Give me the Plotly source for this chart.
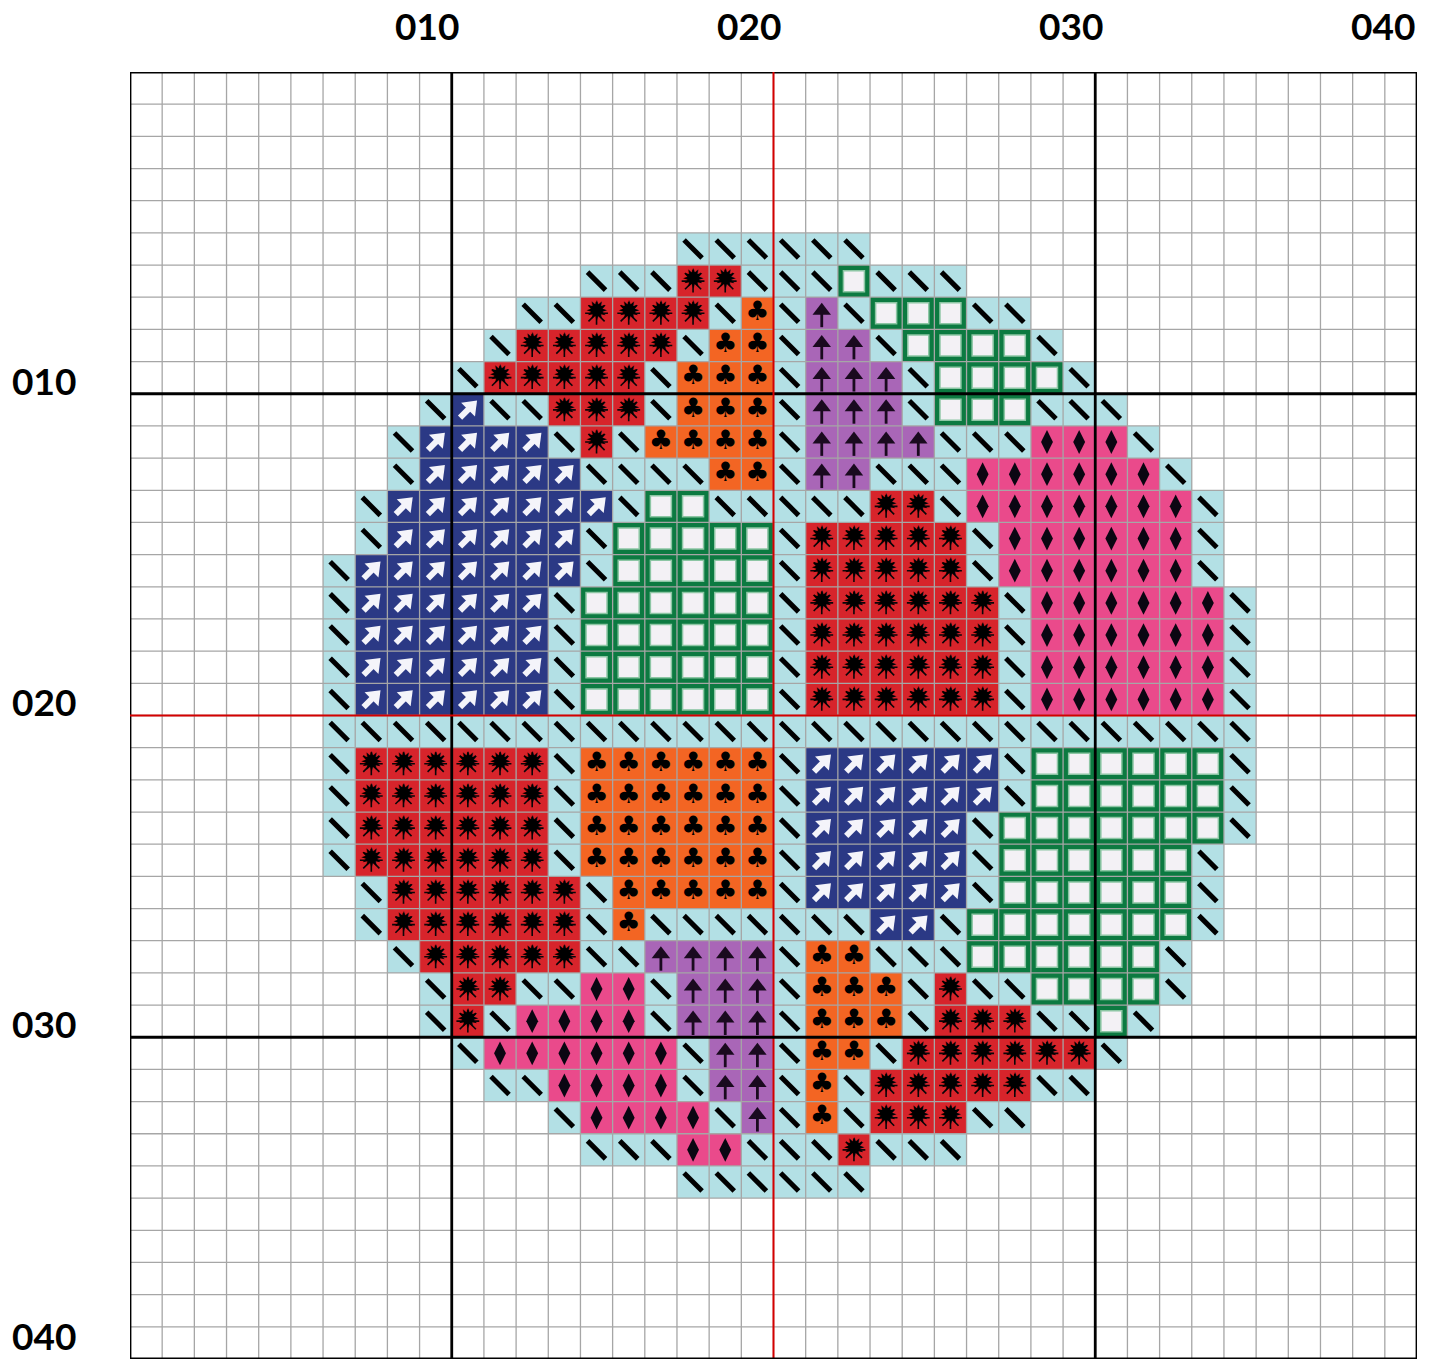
import plotly.graph_objects as go

GRID_N = 40

# ---- pattern data: for each stitched row, the first column and the thread codes ----
STITCH_ROWS = list(range(6, 36))
STITCH_START = [18, 15, 13, 12, 11, 10, 9, 9, 8, 8,
                7, 7, 7, 7, 7, 7, 7, 7, 7, 7,
                8, 8, 9, 10, 10, 11, 12, 14, 15, 18]
STITCH_CODES = [
    "bbbbbb",                          # 6
    "bbbrrbbbgbbb",                    # 7
    "bbrrrrbobpbgggbb",                # 8
    "brrrrrboobppbggggb",              # 9
    "brrrrrbooobpppbggggb",            # 10
    "bnbbrrrbooobpppbgggbbb",          # 11
    "bnnnnbrboooobppppbbbkkkb",        # 12
    "bnnnnnbbbboobppbbbkkkkkkb",       # 13
    "bnnnnnnnbggbbbbbrrbkkkkkkkb",     # 14
    "bnnnnnnbgggggbrrrrrbkkkkkkb",     # 15
    "bnnnnnnnbgggggbrrrrrbkkkkkkb",    # 16
    "bnnnnnnbggggggbrrrrrrbkkkkkkb",   # 17
    "bnnnnnnbggggggbrrrrrrbkkkkkkb",   # 18
    "bnnnnnnbggggggbrrrrrrbkkkkkkb",   # 19
    "bnnnnnnbggggggbrrrrrrbkkkkkkb",   # 20
    "bbbbbbbbbbbbbbbbbbbbbbbbbbbbb",   # 21
    "brrrrrrboooooobnnnnnnbggggggb",   # 22
    "brrrrrrboooooobnnnnnnbggggggb",   # 23
    "brrrrrrboooooobnnnnnbgggggggb",   # 24
    "brrrrrrboooooobnnnnnbggggggb",    # 25
    "brrrrrrbooooobnnnnnbggggggb",     # 26
    "brrrrrrbobbbbbbbnnbgggggggb",     # 27
    "brrrrrbbppppboobbbggggggb",       # 28
    "brrbbkkbpppbooobrbbggggb",        # 29
    "brbkkkkbpppbooobrrrbbgb",         # 30
    "bkkkkkkbppboobrrrrrrb",           # 31
    "bbkkkkbppbobrrrrrbb",             # 32
    "bkkkkbpbobrrrbb",                 # 33
    "bbbkkbbbrbbb",                    # 34
    "bbbbbb",                          # 35
]

THREAD_CODES = ["b", "r", "o", "p", "n", "g", "k"]
THREAD_NAMES = ["Light blue", "Red", "Orange", "Lilac", "Navy", "Green", "Pink"]
THREAD_COLORS = ["#b3e0e5", "#d7242b", "#f36523", "#a966b7", "#2b3985", "#0c7a41", "#ea4a8b"]

TICK_VALUES = [10, 20, 30, 40]
TICK_LABELS = ["010", "020", "030", "040"]

# ---- figure geometry ----
FIG_W, FIG_H = 1435, 1359
M_L, M_R, M_T = 130, 18, 72
CELL = (FIG_W - M_L - M_R) / GRID_N          # px per cell
Y_VISIBLE = (FIG_H - M_T) / CELL             # rows visible in plot area

# ---- build the cell grid ----
z = [[0] * GRID_N for _ in range(GRID_N)]
cells = {c: ([], []) for c in THREAD_CODES}
for row, start, codes in zip(STITCH_ROWS, STITCH_START, STITCH_CODES):
    for j, ch in enumerate(codes):
        col = start + j
        z[row - 1][col - 1] = THREAD_CODES.index(ch) + 1
        cells[ch][0].append(col - 0.5)
        cells[ch][1].append(row - 0.5)

ncat = len(THREAD_CODES) + 1
palette = ["#ffffff"] + THREAD_COLORS
colorscale = []
for i, col in enumerate(palette):
    colorscale.append([i / ncat, col])
    colorscale.append([(i + 1) / ncat, col])

centers = [i + 0.5 for i in range(GRID_N)]
fig = go.Figure()
fig.add_trace(go.Heatmap(z=z, x=centers, y=centers, colorscale=colorscale,
                         zmin=-0.5, zmax=ncat - 0.5, showscale=False, hoverinfo="skip"))

def pts(code, dx=0.0, dy=0.0):
    xs, ys = cells[code]
    return [x + dx for x in xs], [y + dy for y in ys]

def add_mark(code, marker, dx=0.0, dy=0.0):
    x, y = pts(code, dx, dy)
    fig.add_trace(go.Scatter(x=x, y=y, mode="markers", hoverinfo="skip", marker=marker))

def add_glyph(code, glyph, size):
    x, y = pts(code)
    fig.add_trace(go.Scatter(x=x, y=y, mode="text", text=[glyph] * len(x), hoverinfo="skip",
                             textposition="middle center",
                             textfont=dict(family="DejaVu Sans", size=size, color="black")))

INK = "#0a0508"
# light blue: diagonal stroke
add_mark("b", dict(symbol="line-nw", size=18, line=dict(width=5, color="black")))
# red: starburst
add_mark("r", dict(symbol="asterisk", size=19, line=dict(width=1.6, color=INK)))
add_glyph("r", "✹", 27)
# orange: club
add_glyph("o", "♣", 27)
# lilac: arrow up (head + stem)
add_mark("p", dict(symbol="line-ns", size=12, line=dict(width=2.8, color="#1a0a1f")), 0, 0.17)
add_mark("p", dict(symbol="triangle-up", size=16, color="#1a0a1f", line=dict(width=0)), 0, -0.08)
# navy: white arrow pointing NE (stem + head)
add_mark("n", dict(symbol="line-ne", size=11, line=dict(width=6, color="#f4f4fa")), -0.07, 0.07)
add_mark("n", dict(symbol="triangle-up", angle=45, size=17, color="#f4f4fa", line=dict(width=0)), 0.1, -0.1)
# green: white square
add_mark("g", dict(symbol="square", size=21, color="#f3f1f5", line=dict(width=1.5, color="#8cc6a4")))
# pink: tall diamond
add_mark("k", dict(symbol="diamond-tall", size=17, color="#0b0612", line=dict(width=0)))

# ---- grid lines ----
shapes = []
for i in range(GRID_N + 1):
    shapes.append(dict(type="line", x0=i, x1=i, y0=0, y1=GRID_N, layer="above",
                       line=dict(color="#a6a6a6", width=1.3)))
    shapes.append(dict(type="line", x0=0, x1=GRID_N, y0=i, y1=i, layer="above",
                       line=dict(color="#a6a6a6", width=1.3)))
for i in [0] + TICK_VALUES:
    color = "#d40000" if i == GRID_N // 2 else "black"
    width = 2 if i == GRID_N // 2 else 2.8
    shapes.append(dict(type="line", x0=i, x1=i, y0=0, y1=GRID_N, layer="above",
                       line=dict(color=color, width=width)))
    shapes.append(dict(type="line", x0=0, x1=GRID_N, y0=i, y1=i, layer="above",
                       line=dict(color=color, width=width)))

# ---- tick labels (paper coordinates so they can sit outside the grid) ----
def px_x(d):
    return d / GRID_N

def px_y(d):
    return 1 - d / Y_VISIBLE

annotations = []
lab_font = dict(family="Lato", size=37, color="black", weight=700)
for v, lab in zip(TICK_VALUES, TICK_LABELS):
    annotations.append(dict(x=px_x(min(v + 0.3, GRID_N)), y=px_y(-1.46), xref="paper", yref="paper",
                            text=lab, showarrow=False, xanchor="right", yanchor="middle", font=lab_font))
    annotations.append(dict(x=px_x(-3.73), y=px_y(min(v - 0.42, Y_VISIBLE - 0.72)),
                            xref="paper", yref="paper",
                            text=lab, showarrow=False, xanchor="left", yanchor="middle", font=lab_font))

fig.update_layout(
    width=FIG_W, height=FIG_H,
    margin=dict(l=M_L, r=M_R, t=M_T, b=0, pad=0),
    paper_bgcolor="white", plot_bgcolor="white",
    showlegend=False,
    xaxis=dict(range=[0, GRID_N], showgrid=False, zeroline=False, showticklabels=False,
               ticks="", fixedrange=True),
    yaxis=dict(range=[Y_VISIBLE, 0], showgrid=False, zeroline=False, showticklabels=False,
               ticks="", fixedrange=True),
    shapes=shapes, annotations=annotations,
)

fig.write_html("out.html", config={"displayModeBar": False},
               post_script="document.body.style.margin='0';")
